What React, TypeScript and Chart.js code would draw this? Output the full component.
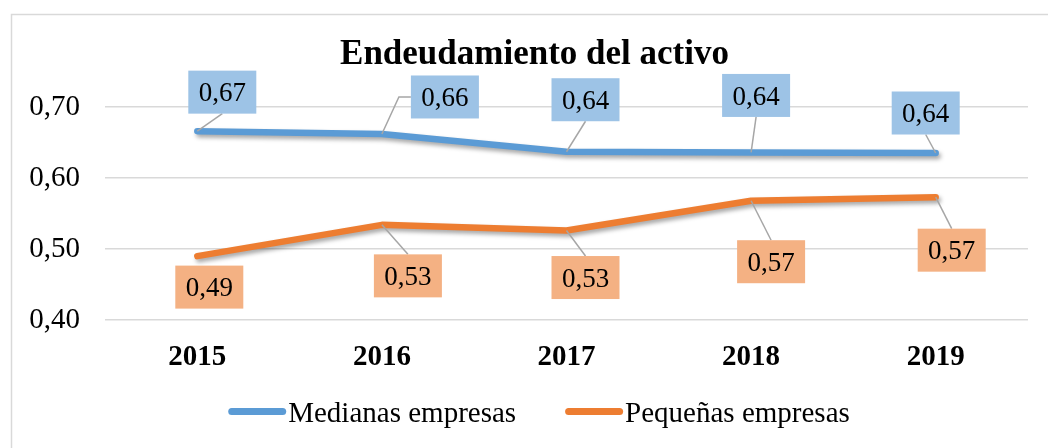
import React, { useEffect, useRef } from 'react';
import { Chart, registerables } from 'chart.js';

Chart.register(...registerables);

// ---- data ----
const years = ['2015', '2016', '2017', '2018', '2019'];
const medianas = [0.666, 0.662, 0.637, 0.636, 0.6352];
const pequenas = [0.49, 0.534, 0.526, 0.568, 0.573];
const yTicks = [0.4, 0.5, 0.6, 0.7];
const seriesNames = ['Medianas empresas', 'Pequeñas empresas'];
const titleText = 'Endeudamiento del activo';

// ---- styles ----
const FONT = "'Liberation Serif', 'Times New Roman', serif";
const lineColors = ['#5B9BD5', '#ED7D31'];
const boxColors = ['#9DC3E6', '#F4B183'];
// manual label placement (pixel offset of label box centre from its point)
const labelOffsets = [
  [[25, -39], [63, -37], [19, -52], [5, -57], [-10, -40]],
  [[12, 31], [26, 51], [19, 47], [20, 61], [16, 53]],
];

const fmt = (v: number) => v.toFixed(2).replace('.', ',');

const framePlugin = {
  id: 'frame',
  beforeDraw(chart: any) {
    const ctx = chart.ctx;
    ctx.save();
    ctx.fillStyle = '#ffffff';
    ctx.fillRect(0, 0, chart.width, chart.height);
    ctx.strokeStyle = '#d9d9d9';
    ctx.lineWidth = 1.5;
    ctx.beginPath();
    ctx.moveTo(11.5, chart.height);
    ctx.lineTo(11.5, 14.5);
    ctx.lineTo(chart.width, 14.5);
    ctx.stroke();
    // title
    ctx.fillStyle = '#000000';
    ctx.font = `bold 35px ${FONT}`;
    ctx.textAlign = 'center';
    ctx.textBaseline = 'alphabetic';
    ctx.fillText(titleText, 534.5, 64);
    ctx.restore();
  },
};

const shadowPlugin = {
  id: 'lineShadow',
  beforeDatasetDraw(chart: any) {
    const ctx = chart.ctx;
    ctx.save();
    ctx.shadowColor = 'rgba(0,0,0,0.35)';
    ctx.shadowBlur = 4;
    ctx.shadowOffsetX = 2;
    ctx.shadowOffsetY = 3;
  },
  afterDatasetDraw(chart: any) {
    chart.ctx.restore();
  },
};

const labelPlugin = {
  id: 'calloutLabels',
  afterDatasetsDraw(chart: any) {
    const ctx = chart.ctx;
    const w = 68;
    const h = 43;
    chart.data.datasets.forEach((ds: any, i: number) => {
      const meta = chart.getDatasetMeta(i);
      meta.data.forEach((pt: any, j: number) => {
        const [dx, dy] = labelOffsets[i][j];
        const x = pt.x;
        const y = pt.y;
        const cx = x + dx;
        const cy = y + dy;
        ctx.save();
        ctx.strokeStyle = '#a6a6a6';
        ctx.lineWidth = 1.5;
        if (Math.abs(dx) > w / 2 + 4) {
          const sgn = dx > 0 ? 1 : -1;
          const ax = cx - sgn * (w / 2);
          const ex = ax - sgn * 12;
          ctx.beginPath();
          ctx.moveTo(x, y);
          ctx.lineTo(ex, cy);
          ctx.lineTo(ax, cy);
          ctx.stroke();
        } else {
          const ay = dy < 0 ? cy + h / 2 : cy - h / 2;
          if (Math.abs(ay - y) > 14) {
            ctx.beginPath();
            ctx.moveTo(x, y);
            ctx.lineTo(cx, ay);
            ctx.stroke();
          }
        }
        ctx.fillStyle = boxColors[i];
        ctx.fillRect(cx - w / 2, cy - h / 2, w, h);
        ctx.fillStyle = '#000000';
        ctx.font = `27px ${FONT}`;
        ctx.textAlign = 'center';
        ctx.textBaseline = 'middle';
        ctx.fillText(fmt(ds.data[j]), cx, cy + 2);
        ctx.restore();
      });
    });
  },
};

const legendPlugin = {
  id: 'customLegend',
  afterDraw(chart: any) {
    const ctx = chart.ctx;
    ctx.save();
    ctx.font = `29px ${FONT}`;
    const lineLen = 58;
    const gap = 2;
    const spacing = 49;
    const widths = seriesNames.map((n) => ctx.measureText(n).width);
    const total = widths.reduce((a, b) => a + b, 0) + seriesNames.length * (lineLen + gap) + spacing * (seriesNames.length - 1);
    let x = 539 - total / 2;
    const lineY = 411.5;
    const textY = 422;
    seriesNames.forEach((name, i) => {
      ctx.strokeStyle = lineColors[i];
      ctx.lineWidth = 7;
      ctx.lineCap = 'round';
      ctx.beginPath();
      ctx.moveTo(x + 3.5, lineY);
      ctx.lineTo(x + lineLen - 3.5, lineY);
      ctx.stroke();
      x += lineLen + gap;
      ctx.fillStyle = '#000000';
      ctx.textAlign = 'left';
      ctx.textBaseline = 'alphabetic';
      ctx.fillText(name, x, textY);
      x += widths[i] + spacing;
    });
    ctx.restore();
  },
};

export default function App() {
  const ref = useRef<HTMLCanvasElement | null>(null);
  useEffect(() => {
    document.body.style.margin = '0';
    const canvas = ref.current;
    if (!canvas) return;
    const chart = new Chart(canvas, {
      type: 'line',
      data: {
        labels: years,
        datasets: [
          {
            label: seriesNames[0],
            data: medianas,
            borderColor: lineColors[0],
            backgroundColor: lineColors[0],
            borderWidth: 6.5,
            borderCapStyle: 'round',
            borderJoinStyle: 'round',
            pointRadius: 0,
            tension: 0,
          },
          {
            label: seriesNames[1],
            data: pequenas,
            borderColor: lineColors[1],
            backgroundColor: lineColors[1],
            borderWidth: 6.5,
            borderCapStyle: 'round',
            borderJoinStyle: 'round',
            pointRadius: 0,
            tension: 0,
          },
        ],
      },
      options: {
        responsive: false,
        animation: false,
        devicePixelRatio: 1,
        layout: { padding: { left: 0, right: 20, top: 107, bottom: 0 } },
        plugins: {
          legend: { display: false },
          tooltip: { enabled: false },
          title: { display: false },
        },
        scales: {
          x: {
            type: 'category',
            offset: true,
            grid: { display: false },
            border: { display: false },
            ticks: {
              color: '#000000',
              font: { family: FONT, size: 29, weight: 'bold' },
              padding: 12,
              maxRotation: 0,
            },
            afterFit(scale: any) {
              scale.height = 128;
            },
          },
          y: {
            min: 0.4,
            max: 0.7,
            grid: { color: '#d9d9d9', lineWidth: 1.5, drawTicks: false },
            border: { display: false },
            ticks: {
              color: '#000000',
              font: { family: FONT, size: 29 },
              padding: 25,
              callback: (v: any) => fmt(Number(v)),
            },
            afterBuildTicks(scale: any) {
              scale.ticks = yTicks.map((v) => ({ value: v }));
            },
            afterFit(scale: any) {
              scale.width = 105;
            },
          },
        },
      },
      plugins: [framePlugin, shadowPlugin, labelPlugin, legendPlugin],
    } as any);
    return () => chart.destroy();
  }, []);
  return <canvas ref={ref} width={1048} height={448} style={{ display: 'block' }} />;
}
